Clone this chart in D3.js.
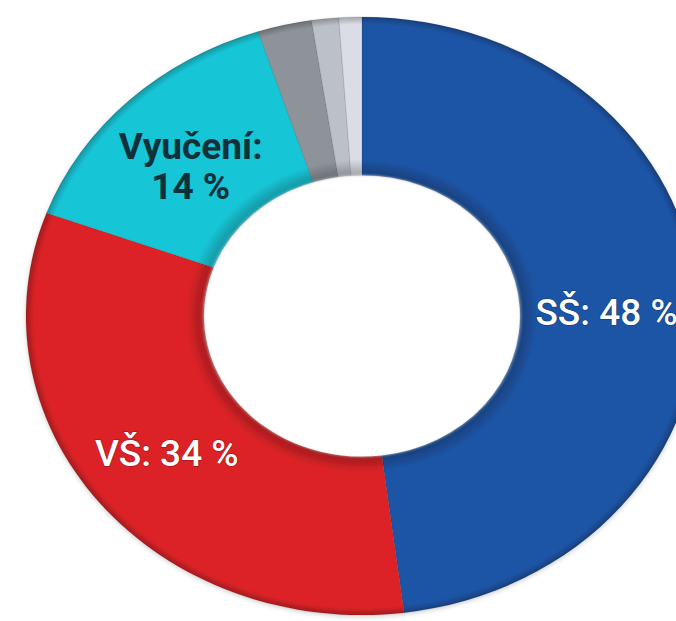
<!DOCTYPE html>
<html>
<head>
<meta charset="utf-8">
<script src="https://cdn.jsdelivr.net/npm/d3@7"></script>
<style>
  body { margin: 0; background: #fff; overflow: hidden; }
  svg { display: block; }
</style>
</head>
<body>
<script>
// categories, values (share of slice in %) and the label text shown on each slice
var categories = ["SŠ", "VŠ", "Vyučení", "ostatní A", "ostatní B", "ostatní C"];
var values = [48, 32.6, 14.4, 2.6, 1.3, 1.1];
var labels = [["SŠ: 48 %"], ["VŠ: 34 %"], ["Vyučení:", "14 %"], [], [], []];
var colors = ["#1f55a6", "#dc2428", "#17c5d6", "#8e9399", "#bcc1c8", "#dadde5"];
var labelColors = ["#ffffff", "#ffffff", "#10303a", null, null, null];

var width = 676, height = 621;
var cx = 362, cy = 316, squash = 0.89;
var rOuter = 336, rInner = 158;

// nudge of each label from its slice centroid (screen px)
var labelNudge = [[-2, 9], [-2, 0], [0, 8], [0, 0], [0, 0], [0, 0]];

var data = categories.map(function(c, i) {
  return {name: c, value: values[i], label: labels[i], color: colors[i], labelColor: labelColors[i]};
});

var svg = d3.select("body").append("svg")
    .attr("width", width)
    .attr("height", height);

var defs = svg.append("defs");

// soft shadow around the ring
var shadow = defs.append("filter").attr("id", "shadow")
    .attr("x", "-10%").attr("y", "-10%").attr("width", "120%").attr("height", "120%");
shadow.append("feDropShadow")
    .attr("dx", 0).attr("dy", 2).attr("stdDeviation", 2.5)
    .attr("flood-color", "#000").attr("flood-opacity", 0.18);

var blur = defs.append("filter").attr("id", "blur");
blur.append("feGaussianBlur").attr("stdDeviation", 2);

// one radial gradient per slice: darker band at the hole, dark rim outside
data.forEach(function(d, i) {
  var g = defs.append("radialGradient")
      .attr("id", "grad" + i)
      .attr("gradientUnits", "userSpaceOnUse")
      .attr("cx", 0).attr("cy", 0).attr("r", rOuter);
  var base = d3.color(d.color);
  var stops = [
    [rInner / rOuter, base.darker(0.8)],
    [(rInner + 7) / rOuter, base.darker(0.5)],
    [(rInner + 18) / rOuter, base],
    [0.975, base],
    [1, base.darker(0.8)]
  ];
  stops.forEach(function(s) {
    g.append("stop").attr("offset", s[0]).attr("stop-color", s[1].formatHex());
  });
});

var pie = d3.pie()
    .sort(null)
    .value(function(d) { return d.value; });

var arc = d3.arc()
    .innerRadius(rInner)
    .outerRadius(rOuter);

var arcs = pie(data);

// the ring is drawn as a circle and squashed vertically
var ring = svg.append("g")
    .attr("transform", "translate(" + cx + "," + cy + ") scale(1," + squash + ")")
    .attr("filter", "url(#shadow)");

ring.selectAll("path.slice")
  .data(arcs)
  .enter().append("path")
    .attr("class", "slice")
    .attr("d", arc)
    .attr("fill", function(d, i) { return "url(#grad" + i + ")"; })
    .attr("stroke", "rgba(0,0,0,0.12)")
    .attr("stroke-width", 1);

// soft edge of the hole
var hole = svg.append("g")
    .attr("transform", "translate(" + cx + "," + cy + ") scale(1," + squash + ")");
hole.append("circle")
    .attr("r", rInner - 2)
    .attr("fill", "#fff")
    .attr("stroke", "#fff")
    .attr("stroke-width", 3)
    .attr("filter", "url(#blur)");

// labels at the slice centroids
var labelG = svg.append("g")
    .attr("transform", "translate(" + cx + "," + cy + ")");

arcs.forEach(function(a, i) {
  var lines = a.data.label;
  if (!lines.length) return;
  var c = arc.centroid(a);
  var x = c[0] + labelNudge[i][0], y = c[1] * squash + labelNudge[i][1];
  var lh = 40;
  var white = a.data.labelColor === "#ffffff";
  var t = labelG.append("text")
      .attr("x", x)
      .attr("y", y - (lines.length - 1) * lh / 2)
      .attr("text-anchor", "middle")
      .attr("font-family", "Roboto, 'Noto Sans', sans-serif")
      .attr("font-size", 37)
      .attr("font-weight", white ? 500 : 700)
      .attr("fill", a.data.labelColor)
      .style("paint-order", "stroke")
      .attr("stroke", white ? "rgba(0,0,0,0.25)" : "none")
      .attr("stroke-width", 1.5);
  lines.forEach(function(l, j) {
    t.append("tspan")
      .attr("x", x)
      .attr("dy", j === 0 ? "0.36em" : lh)
      .text(l);
  });
});
</script>
</body>
</html>
